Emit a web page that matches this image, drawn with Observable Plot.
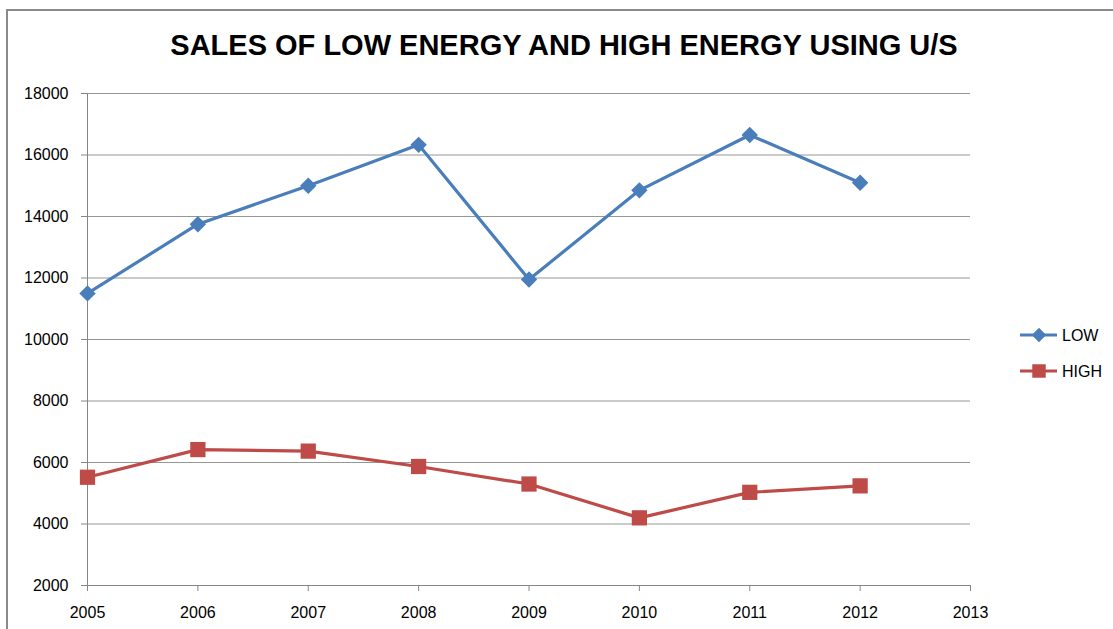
<!DOCTYPE html>
<html>
<head>
<meta charset="utf-8">
<script src="https://cdn.jsdelivr.net/npm/d3@7"></script>
<script src="https://cdn.jsdelivr.net/npm/@observablehq/plot@0.6"></script>
<style>
  html, body { margin: 0; padding: 0; background: #fff; }
  #wrap { position: relative; width: 1113px; height: 629px; overflow: hidden; font-family: "Liberation Sans", Arial, sans-serif; }
  #frame { position: absolute; left: 6px; top: 9px; width: 1200px; height: 700px; border-left: 2px solid #8a8a8a; border-top: 2px solid #8a8a8a; box-sizing: border-box; }
  #chart { position: absolute; left: 0; top: 0; }
  #legend { position: absolute; left: 1010px; top: 320px; }
</style>
</head>
<body>
<div id="wrap">
  <div id="frame"></div>
  <div id="chart"></div>
  <svg id="legend" width="100" height="70"></svg>
</div>
<script>
const titleText = "SALES OF LOW ENERGY AND HIGH ENERGY USING U/S";
const years = [2005, 2006, 2007, 2008, 2009, 2010, 2011, 2012];
const lowSales = [11500, 13750, 15000, 16330, 11950, 14850, 16650, 15100];
const highSales = [5520, 6420, 6370, 5870, 5300, 4200, 5030, 5240];
const xTicks = [2005, 2006, 2007, 2008, 2009, 2010, 2011, 2012, 2013];
const yTicks = [2000, 4000, 6000, 8000, 10000, 12000, 14000, 16000, 18000];
const seriesNames = ["LOW", "HIGH"];
const seriesColors = ["#4A7EBB", "#BE4B48"];

const rows = years.map((yr, i) => ({year: yr, low: lowSales[i], high: highSales[i]}));

const chart = Plot.plot({
  width: 1113,
  height: 629,
  marginLeft: 87,
  marginRight: 143,
  marginTop: 93,
  marginBottom: 44,
  style: {fontFamily: "'Liberation Sans', Arial, sans-serif", fontSize: "16px", color: "#000", background: "transparent", overflow: "visible"},
  x: {domain: [2005, 2013], label: null},
  y: {domain: [2000, 18000], label: null},
  marks: [
    Plot.gridY(yTicks.filter(d => d > 2000), {stroke: "#969696", strokeOpacity: 1, strokeWidth: 1}),
    Plot.ruleX([2005], {stroke: "#868686", strokeWidth: 1}),
    Plot.ruleY([2000], {stroke: "#868686", strokeWidth: 1}),
    Plot.axisY({ticks: yTicks, tickFormat: d => String(d), tickSize: 6, tickPadding: 13, stroke: "#868686", fill: "#000", fontSize: 16, label: null}),
    Plot.axisX({ticks: xTicks, tickFormat: d => String(d), tickSize: 6, tickPadding: 15, stroke: "#868686", fill: "#000", fontSize: 16, label: null}),
    Plot.line(rows, {x: "year", y: "low", stroke: seriesColors[0], strokeWidth: 3.2}),
    Plot.line(rows, {x: "year", y: "high", stroke: seriesColors[1], strokeWidth: 3.2}),
    Plot.dot(rows, {x: "year", y: "low", symbol: "diamond2", r: 7.4, fill: seriesColors[0], stroke: "none"}),
    Plot.dot(rows, {x: "year", y: "high", symbol: "square", r: 8.6, fill: seriesColors[1], stroke: "none"}),
    Plot.text([titleText], {text: d => d, frameAnchor: "top", dx: 35, dy: -48, lineAnchor: "middle", fontSize: 29, fontWeight: "bold", fill: "#000", ariaLabel: "title"})
  ]
});
document.getElementById("chart").appendChild(chart);

// legend
const leg = d3.select("#legend");
const symbols = [d3.symbolDiamond2, d3.symbolSquare];
const rs = [7.2, 8.5];
seriesNames.forEach((name, i) => {
  const cy = 15 + i * 36;
  leg.append("line").attr("x1", 10).attr("x2", 47).attr("y1", cy).attr("y2", cy)
    .attr("stroke", seriesColors[i]).attr("stroke-width", 3);
  leg.append("path").attr("d", d3.symbol(symbols[i], Math.PI * rs[i] * rs[i] * 0.8)())
    .attr("transform", `translate(29,${cy})`).attr("fill", seriesColors[i]);
  leg.append("text").attr("x", 52).attr("y", cy).attr("dy", "0.35em")
    .attr("font-family", "'Liberation Sans', Arial, sans-serif").attr("font-size", 16).attr("fill", "#000").text(name);
});
</script>
</body>
</html>
